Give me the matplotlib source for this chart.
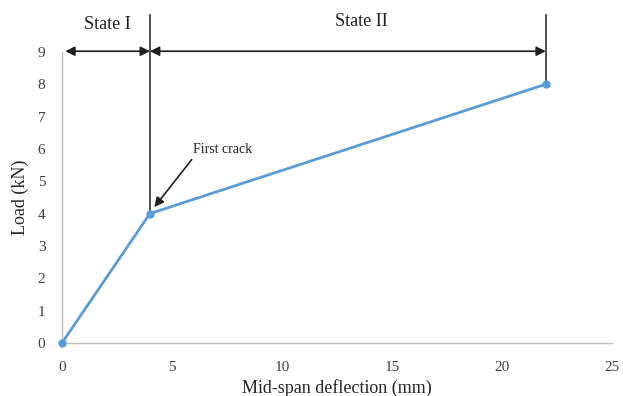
import matplotlib
matplotlib.use("Agg")
import matplotlib.pyplot as plt

deflection = [0, 4, 22]
load = [0, 4, 8]
x_ticks = [0, 5, 10, 15, 20, 25]
y_ticks = [0, 1, 2, 3, 4, 5, 6, 7, 8, 9]

plt.rcParams['font.family'] = ['Liberation Serif', 'DejaVu Serif']

fig = plt.figure(figsize=(6.23, 3.96), dpi=100)
ax = fig.add_axes([0.0995, 0.134, 0.8825, 0.735])
ax.plot(deflection, load, color='#5B9BD5', lw=2, marker='o', ms=5, clip_on=False, zorder=3)
ax.set_xlim(0, 25)
ax.set_ylim(0, 9)
ax.set_xticks(x_ticks)
ax.set_yticks(y_ticks)
ax.tick_params(length=0, labelsize=11, colors='#404040')
ax.tick_params(axis='x', pad=13)
ax.tick_params(axis='y', pad=12)
for s in ['top', 'right']:
    ax.spines[s].set_visible(False)
for s in ['left', 'bottom']:
    ax.spines[s].set_color('#BFBFBF')
    ax.spines[s].set_linewidth(1)
ax.set_xlabel('Mid-span deflection (mm)', fontsize=13, color='#262626', labelpad=4)
ax.set_ylabel('Load (kN)', fontsize=13, color='#262626', labelpad=6)

# vertical boundary lines
top = 10.15
ax.plot([deflection[1], deflection[1]], [load[1], top], color='#303030', lw=1.2, clip_on=False)
ax.plot([deflection[2], deflection[2]], [load[2], top], color='#303030', lw=1.2, clip_on=False)

# double arrows
arr = dict(arrowstyle='<|-|>', color='#202020', lw=1.2, mutation_scale=14, shrinkA=0, shrinkB=0)
ax.annotate('', xy=(0.15, 9.02), xytext=(deflection[1], 9.02), arrowprops=arr, annotation_clip=False)
ax.annotate('', xy=(deflection[1], 9.02), xytext=(deflection[2], 9.02), arrowprops=arr, annotation_clip=False)
ax.text(2.05, 9.84, 'State I', ha='center', va='center', fontsize=13, color='#202020', clip_on=False)
ax.text(13.6, 9.93, 'State II', ha='center', va='center', fontsize=13, color='#202020', clip_on=False)

# First crack annotation
ax.text(5.95, 5.98, 'First crack', fontsize=10, color='#202020', ha='left', va='center')
ax.annotate('', xy=(4.2, 4.2), xytext=(5.9, 5.67),
            arrowprops=dict(arrowstyle='-|>', color='#202020', lw=1.2, mutation_scale=14,
                            shrinkA=0, shrinkB=0))

fig.savefig('out.png', dpi=100)
